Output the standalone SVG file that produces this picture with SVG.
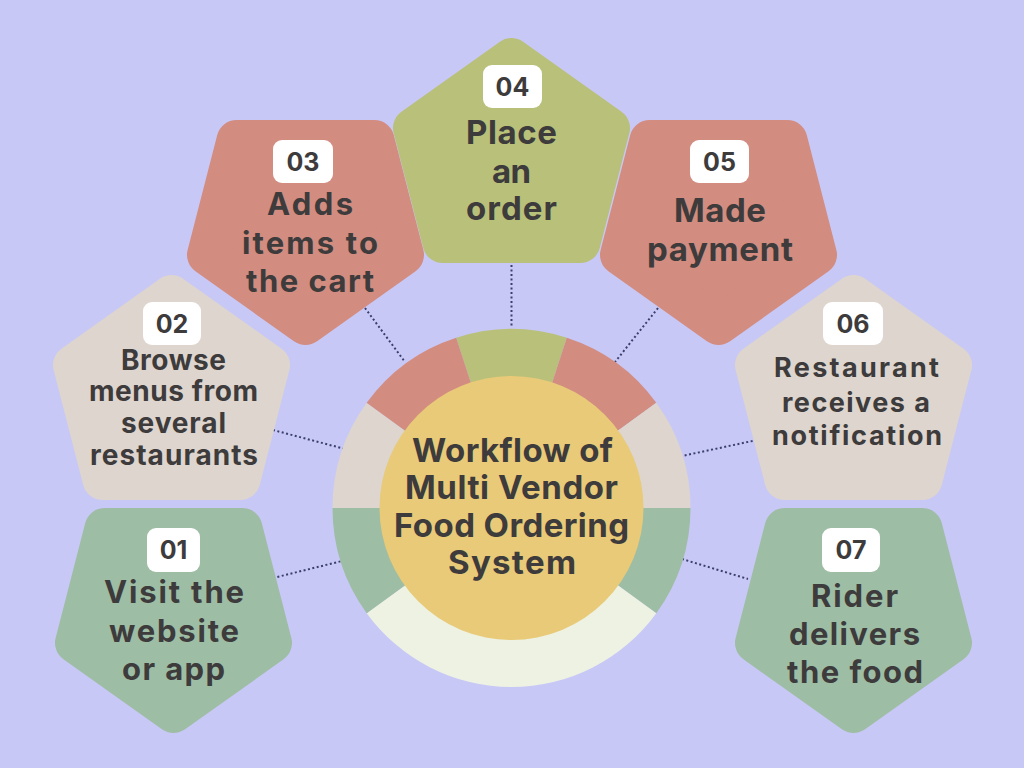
<svg xmlns="http://www.w3.org/2000/svg" xmlns:xlink="http://www.w3.org/1999/xlink" width="1024" height="768" viewBox="0 0 1024 768">
<style>
.lbl{font-family:Inter,"Liberation Sans",sans-serif;font-weight:700;fill:#3d3b3b;text-anchor:middle}
.num{font-family:Inter,"Liberation Sans",sans-serif;font-weight:700;fill:#3d3b3b;text-anchor:middle;font-size:25px}
.badge{fill:#ffffff}
.pent{stroke-width:40;stroke-linejoin:round}
.olive{fill:#b9c07a;stroke:#b9c07a}
.red{fill:#d28c80;stroke:#d28c80}
.beige{fill:#ddd5ce;stroke:#ddd5ce}
.green{fill:#9ebda5;stroke:#9ebda5}
.dot{stroke:#3b3f6b;stroke-width:2;stroke-dasharray:2 2.5;fill:none}
</style>
<defs>
<polygon id="up" points="118.5,20 217,90 187.4,205 49.6,205 20,90"/>
<polygon id="down" points="49.6,20 187.4,20 217,135 118.5,205 20,135"/>
</defs>
<rect width="1024" height="768" fill="#c8c8f6"/>
<g id="connectors">
<line class="dot" x1="273" y1="578" x2="342" y2="561"/>
<line class="dot" x1="273" y1="430" x2="345" y2="449"/>
<line class="dot" x1="365" y1="308" x2="405" y2="362"/>
<line class="dot" x1="511.5" y1="265" x2="511.5" y2="327"/>
<line class="dot" x1="658" y1="308" x2="615" y2="362"/>
<line class="dot" x1="757" y1="440" x2="682" y2="456"/>
<line class="dot" x1="682" y1="559" x2="748" y2="579"/>
</g>
<g id="center">
<path d="M511.5,508 L456.19,337.75 A179,179 0 0 1 566.81,337.75 Z" fill="#b9c07a"/>
<path d="M511.5,508 L566.81,337.75 A179,179 0 0 1 656.31,402.78 Z" fill="#d28c80"/>
<path d="M511.5,508 L656.31,402.78 A179,179 0 0 1 690.5,508 Z" fill="#ddd5ce"/>
<path d="M511.5,508 L690.5,508 A179,179 0 0 1 656.31,613.22 Z" fill="#9ebda5"/>
<path d="M511.5,508 L656.31,613.22 A179,179 0 0 1 366.69,613.22 Z" fill="#eef2e3"/>
<path d="M511.5,508 L366.69,613.22 A179,179 0 0 1 332.5,508 Z" fill="#9ebda5"/>
<path d="M511.5,508 L332.5,508 A179,179 0 0 1 366.69,402.78 Z" fill="#ddd5ce"/>
<path d="M511.5,508 L366.69,402.78 A179,179 0 0 1 456.19,337.75 Z" fill="#d28c80"/>
<circle cx="511.5" cy="508" r="132" fill="#e8ca78"/>
<text class="lbl" font-size="33" x="512.5" y="461.7" textLength="201" lengthAdjust="spacing">Workflow of</text>
<text class="lbl" font-size="33" x="511.5" y="499" textLength="213" lengthAdjust="spacing">Multi Vendor</text>
<text class="lbl" font-size="33" x="511.5" y="536.5" textLength="235" lengthAdjust="spacing">Food Ordering</text>
<text class="lbl" font-size="33" x="512" y="574" textLength="128" lengthAdjust="spacing">System</text>
</g>
<g id="node01">
<use xlink:href="#down" href="#down" class="pent green" transform="translate(55,508)"/>
<rect class="badge" x="147" y="528" width="53" height="44" rx="9"/>
<text class="num" x="173.5" y="559">01</text>
<text class="lbl" font-size="31" x="174" y="603.3" textLength="140" lengthAdjust="spacing">Visit the</text>
<text class="lbl" font-size="31" x="174" y="641.7" textLength="130" lengthAdjust="spacing">website</text>
<text class="lbl" font-size="31" x="173.5" y="680" textLength="103" lengthAdjust="spacing">or app</text>
</g>
<g id="node02">
<use xlink:href="#up" href="#up" class="pent beige" transform="translate(53,275)"/>
<rect class="badge" x="143" y="302" width="58" height="43" rx="9"/>
<text class="num" x="172" y="332.5">02</text>
<text class="lbl" font-size="28" x="173.5" y="370" textLength="105" lengthAdjust="spacing">Browse</text>
<text class="lbl" font-size="28" x="173.5" y="401" textLength="169" lengthAdjust="spacing">menus from</text>
<text class="lbl" font-size="28" x="173.5" y="433" textLength="105" lengthAdjust="spacing">several</text>
<text class="lbl" font-size="28" x="174" y="465" textLength="168" lengthAdjust="spacing">restaurants</text>
</g>
<g id="node03">
<use xlink:href="#down" href="#down" class="pent red" transform="translate(187,120)"/>
<rect class="badge" x="273" y="140" width="60" height="43" rx="9"/>
<text class="num" x="303" y="170.5">03</text>
<text class="lbl" font-size="31" x="310" y="215" textLength="86" lengthAdjust="spacing">Adds</text>
<text class="lbl" font-size="31" x="310" y="253.5" textLength="136" lengthAdjust="spacing">items to</text>
<text class="lbl" font-size="31" x="310" y="291.7" textLength="128" lengthAdjust="spacing">the cart</text>
</g>
<g id="node04">
<use xlink:href="#up" href="#up" class="pent olive" transform="translate(393,38)"/>
<rect class="badge" x="483" y="65" width="59" height="43" rx="9"/>
<text class="num" x="512.5" y="95.5">04</text>
<text class="lbl" font-size="33" x="511.5" y="144.3" textLength="91" lengthAdjust="spacing">Place</text>
<text class="lbl" font-size="33" x="511.5" y="183" textLength="39" lengthAdjust="spacing">an</text>
<text class="lbl" font-size="33" x="511.5" y="220" textLength="91" lengthAdjust="spacing">order</text>
</g>
<g id="node05">
<use xlink:href="#down" href="#down" class="pent red" transform="translate(600,120)"/>
<rect class="badge" x="690" y="140" width="59" height="43" rx="9"/>
<text class="num" x="719.5" y="170.5">05</text>
<text class="lbl" font-size="33" x="720" y="221.7" textLength="92" lengthAdjust="spacing">Made</text>
<text class="lbl" font-size="33" x="720" y="260.7" textLength="146" lengthAdjust="spacing">payment</text>
</g>
<g id="node06">
<use xlink:href="#up" href="#up" class="pent beige" transform="translate(735,275)"/>
<rect class="badge" x="823" y="302" width="60" height="43" rx="9"/>
<text class="num" x="853" y="332.5">06</text>
<text class="lbl" font-size="27" x="856.5" y="377.3" textLength="165" lengthAdjust="spacing">Restaurant</text>
<text class="lbl" font-size="27" x="856" y="411.7" textLength="148" lengthAdjust="spacing">receives a</text>
<text class="lbl" font-size="27" x="857" y="445" textLength="170" lengthAdjust="spacing">notification</text>
</g>
<g id="node07">
<use xlink:href="#down" href="#down" class="pent green" transform="translate(735,508)"/>
<rect class="badge" x="822" y="528" width="58" height="44" rx="9"/>
<text class="num" x="851" y="559">07</text>
<text class="lbl" font-size="31" x="854.5" y="607.3" textLength="87" lengthAdjust="spacing">Rider</text>
<text class="lbl" font-size="31" x="854.5" y="645" textLength="131" lengthAdjust="spacing">delivers</text>
<text class="lbl" font-size="31" x="855" y="683.3" textLength="136" lengthAdjust="spacing">the food</text>
</g>
</svg>
